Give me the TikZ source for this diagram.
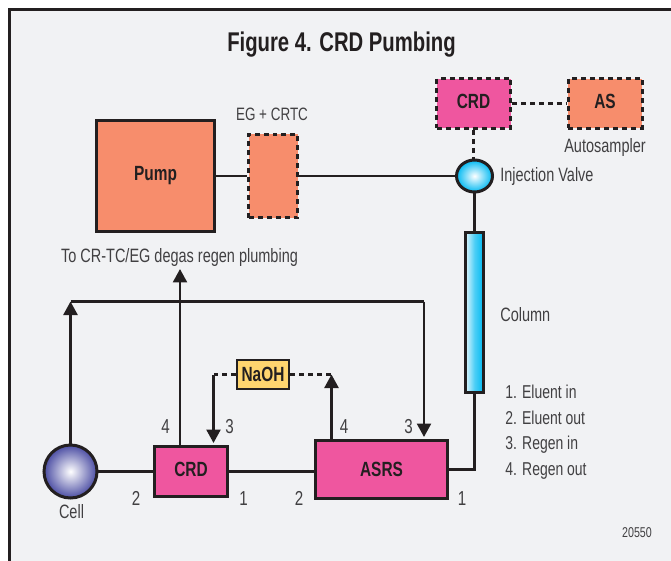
\documentclass[tikz,border=0pt]{standalone}
\usepackage{fontspec}
\usepackage{xcolor}
\usetikzlibrary{arrows.meta,shapes.geometric}
\setmainfont[FakeStretch=0.75]{Liberation Sans}
\definecolor{panel}{HTML}{F1F2F4}
\definecolor{ink}{HTML}{231F20}
\definecolor{inkgrey}{HTML}{414042}
\definecolor{salmon}{HTML}{F78D6C}
\definecolor{rose}{HTML}{EF569F}
\definecolor{butter}{HTML}{FFD56F}
\definecolor{cyanfill}{HTML}{00B9F2}
\definecolor{violetfill}{HTML}{4B4DA3}
\tikzset{
    pipe/.style={ink,line width=0.05cm},
    dashpipe/.style={pipe,line width=0.055cm,dash pattern=on 0.1cm off 0.08cm},
    flow/.style={pipe,-{Triangle[length=0.27cm,width=0.28cm]}},
    unit/.style={draw=ink,line width=0.06cm,inner sep=0pt,font=\bfseries\fontsize{11.7}{13}\selectfont,text=ink},
    dashunit/.style={unit,line width=0.06cm,dash pattern=on 0.1cm off 0.08cm},
    tag/.style={inkgrey,inner sep=0pt,font=\fontsize{11}{13}\selectfont},
    legend/.style={tag,anchor=west,font=\fontsize{10.6}{13}\selectfont},
    port/.style={tag,font=\fontsize{11.5}{13}\selectfont}
}
\begin{document}
\begin{tikzpicture}[x=0.02cm,y=-0.02cm]
            \useasboundingbox (0,0) rectangle (671,560);
            \fill[white] (0,0) rectangle (671,560);
            \draw[ink,fill=panel,line width=0.055cm] (9.5,9.5) -- (680,9.5) -- (680,570) -- (9.5,570) -- cycle;
            \node[ink,inner sep=0pt,font=\bfseries\fontsize{15.4}{17}\selectfont] (title) at (341.5,44.5) {Figure 4. CRD Pumbing};

            \node[unit,fill=salmon,minimum width=2.36cm,minimum height=2.22cm] (pump) at (155.5,176) {Pump};
            \node[dashunit,fill=salmon,minimum width=0.98cm,minimum height=1.68cm] (egcrtc) at (273,176) {};
            \node[dashunit,fill=rose,text depth=0.08cm,minimum width=1.48cm,minimum height=1cm] (crdtop) at (473.5,103.5) {CRD};
            \node[dashunit,fill=salmon,text depth=0.08cm,minimum width=1.48cm,minimum height=1cm] (as) at (605,103.5) {AS};
            \node[draw=ink,line width=0.06cm,ellipse,inner sep=0pt,inner color=white,outer color=cyanfill,minimum width=0.72cm,minimum height=0.64cm] (valve) at (474.5,176) {};
            \node[draw=ink,line width=0.05cm,inner sep=0pt,left color=cyanfill!12,right color=cyanfill,middle color=cyanfill!70,minimum width=0.36cm,minimum height=3.2cm] (column) at (474.5,312.5) {};
            \node[unit,fill=rose,minimum width=2.66cm,minimum height=1.16cm] (asrs) at (381.5,469.5) {ASRS};
            \node[unit,fill=rose,text depth=0.08cm,minimum width=1.48cm,minimum height=1cm] (crdlow) at (191,471.5) {CRD};
            \node[draw=ink,line width=0.06cm,circle,inner sep=0pt,inner color=white,outer color=violetfill,minimum size=1.06cm] (cell) at (70.5,471.5) {};
            \node[unit,line width=0.05cm,fill=butter,minimum width=1.04cm,minimum height=0.58cm] (naoh) at (263,374.5) {NaOH};

            \node[tag,font=\fontsize{10.2}{13}\selectfont] (eglabel) at (272,114) {EG + CRTC};
            \node[tag] (aslabel) at (605,148) {Autosampler};
            \node[tag,anchor=west] (valvelabel) at (500,176.5) {Injection Valve};
            \node[tag] (degas) at (179.5,257.5) {To CR-TC/EG degas regen plumbing};
            \node[tag,anchor=west] (columnlabel) at (500,314.5) {Column};
            \node[tag] (celllabel) at (71.5,512) {Cell};
            \node[legend] (legendone) at (505,391.5) {1. Eluent in};
            \node[legend] (legendtwo) at (505,417.5) {2. Eluent out};
            \node[legend] (legendthree) at (505,444.5) {3. Regen in};
            \node[legend] (legendfour) at (505,471.5) {4. Regen out};
            \node[inkgrey,inner sep=0pt,font=\fontsize{8.1}{10}\selectfont] (drawingno) at (637,533) {20550};

            \node[port] (crdfour) at (165.5,426.5) {4};
            \node[port] (crdthree) at (229.5,426.5) {3};
            \node[port] (crdtwo) at (136,498.5) {2};
            \node[port] (crdone) at (243.5,498.5) {1};
            \node[port] (asrstwo) at (299,498.5) {2};
            \node[port] (asrsfour) at (344,426.5) {4};
            \node[port] (asrsthree) at (408.5,426.5) {3};
            \node[port] (asrsone) at (462,498.5) {1};

            \coordinate (cellup) at (70.5,301.5);
            \coordinate (regenright) at (424,301.5);
            \coordinate (regentip) at (424,437);
            \coordinate (crdwaste) at (180,445);
            \coordinate (wastetip) at (180,269);
            \coordinate (naohleft) at (213.5,374.5);
            \coordinate (crdtip) at (213.5,443);
            \coordinate (naohright) at (331.5,374.5);
            \coordinate (asrsout) at (331.5,439);
            \coordinate (asrsbend) at (474.5,469.5);

            \draw[pipe] (pump.east) -- (egcrtc.west);
            \draw[pipe] (egcrtc.east) -- (valve.west);
            \draw[pipe] (valve.south) -- (column.north);
            \draw[pipe] (column.south) -- (asrsbend) -- (asrs.east);
            \draw[pipe] (cell.east) -- (crdlow.west);
            \draw[pipe] (crdlow.east) -- (asrs.west |- crdlow.east);
            \draw[dashpipe] (crdtop.east) -- (as.west);
            \draw[dashpipe] (crdtop.south) -- (crdtop.south |- valve.north);
            \draw[flow] (cell.north) -- (cellup);
            \draw[pipe] (cellup) -- (regenright);
            \draw[flow] (regenright) -- (regentip);
            \draw[flow] (crdwaste) -- (wastetip);
            \draw[dashpipe] (naoh.west) -- (naohleft);
            \draw[flow] (naohleft) -- (crdtip);
            \draw[dashpipe] (naoh.east) -- (naohright);
            \draw[flow] (asrsout) -- (naohright);
\end{tikzpicture}
\end{document}
